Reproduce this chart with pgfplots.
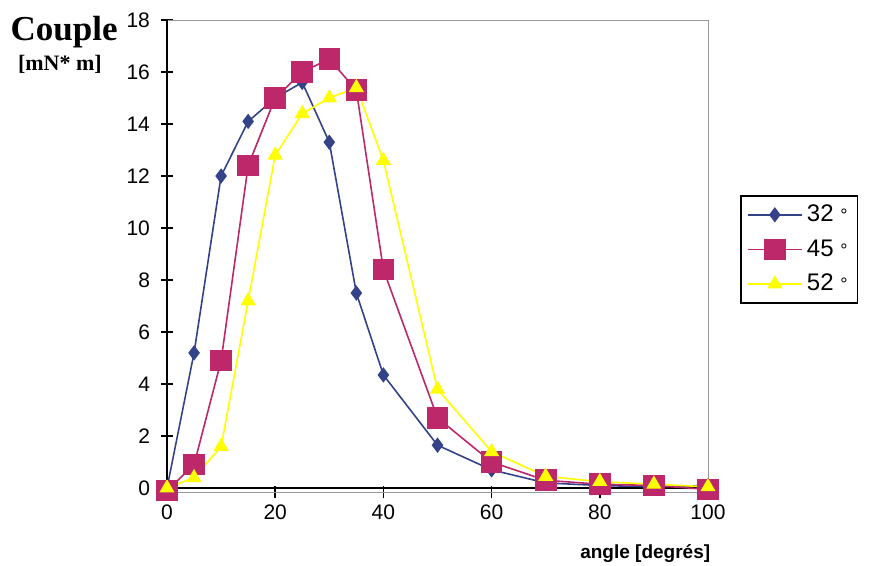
\documentclass[border=0pt]{standalone}
\usepackage{fontspec}
\setmainfont{Liberation Sans}
\newfontfamily\timesfont{Liberation Serif}
\usepackage{pgfplots}
\pgfplotsset{compat=1.18}
\definecolor{sblue}{RGB}{52,66,135}
\definecolor{spink}{RGB}{188,40,106}
\definecolor{syellow}{RGB}{255,255,0}
\begin{document}
\begin{tikzpicture}[x=1pt,y=1pt]
\useasboundingbox (-83.5,-37) rectangle (352,246);
\begin{axis}[
  scale only axis, width=270.5pt, height=236pt,
  xmin=0, xmax=100, ymin=-0.15, ymax=18,
  xtick={0,20,...,100}, ytick={0,2,...,18},
  tick align=center, xtick pos=bottom, ytick pos=left,
  major tick length=6pt,
  tick style={black, line width=0.8pt},
  axis line style={gray!80, line width=0.4pt},
  clip=false,
  tick label style={font=\fontsize{10.5}{12}\selectfont},
  /pgf/number format/assume math mode=true,
  xticklabel style={yshift=0pt},
  yticklabel style={xshift=-2pt},
  legend style={at={(1.059,0.629)}, anchor=north west, draw=black, line width=0.8pt,
    font=\fontsize{12}{14}\selectfont, inner xsep=3pt, inner ysep=2.5pt, row sep=3.5pt},
  legend cell align=left,
  legend image code/.code={\draw[mark repeat=2, mark phase=2] plot coordinates {(0cm,0cm) (0.48cm,0cm) (0.96cm,0cm)};},
]
\draw[black, line width=1pt] (axis cs:0,0) -- (axis cs:100,0);
\draw[black, line width=1pt] (axis cs:0,-0.15) -- (axis cs:0,18);
\addplot[color=sblue, line width=0.8pt, mark=diamond*, mark size=3.2pt, mark options={fill=sblue, draw=sblue}] coordinates {
(0,0) (5,5.2) (10,12.0) (15,14.1) (20,15.0) (25,15.6) (30,13.3) (35,7.5) (40,4.35) (50,1.65) (60,0.7) (70,0.2) (80,0.1) (90,0.05) (100,0.1)};
\addlegendentry{32 {\small °}\hspace{10pt}}
\addplot[color=spink, line width=0.8pt, mark=square*, mark size=5pt, mark options={fill=spink, draw=spink}] coordinates {
(0,-0.1) (5,0.9) (10,4.9) (15,12.4) (20,15.0) (25,16.0) (30,16.5) (35,15.3) (40,8.4) (50,2.7) (60,1.0) (70,0.3) (80,0.15) (90,0.1) (100,-0.05)};
\addlegendentry{45 {\small °}\hspace{10pt}}
\addplot[color=syellow, line width=0.8pt, mark=triangle*, mark size=3.6pt, mark options={fill=syellow, draw=syellow}] coordinates {
(0,0) (5,0.4) (10,1.6) (15,7.2) (20,12.8) (25,14.4) (30,15.0) (35,15.4) (40,12.6) (50,3.8) (60,1.4) (70,0.45) (80,0.25) (90,0.15) (100,0.05)};
\addlegendentry{52 {\small °}\hspace{10pt}}
\node[font=\timesfont\bfseries\fontsize{17.5}{19}\selectfont] at (axis description cs:-0.19,0.975) {Couple};
\node[font=\timesfont\bfseries\fontsize{11}{13}\selectfont] at (axis description cs:-0.198,0.905) {[mN* m]};
\node[font=\bfseries\fontsize{9.5}{11}\selectfont] at (axis description cs:0.884,-0.13) {angle [degrés]};
\end{axis}
\end{tikzpicture}
\end{document}
